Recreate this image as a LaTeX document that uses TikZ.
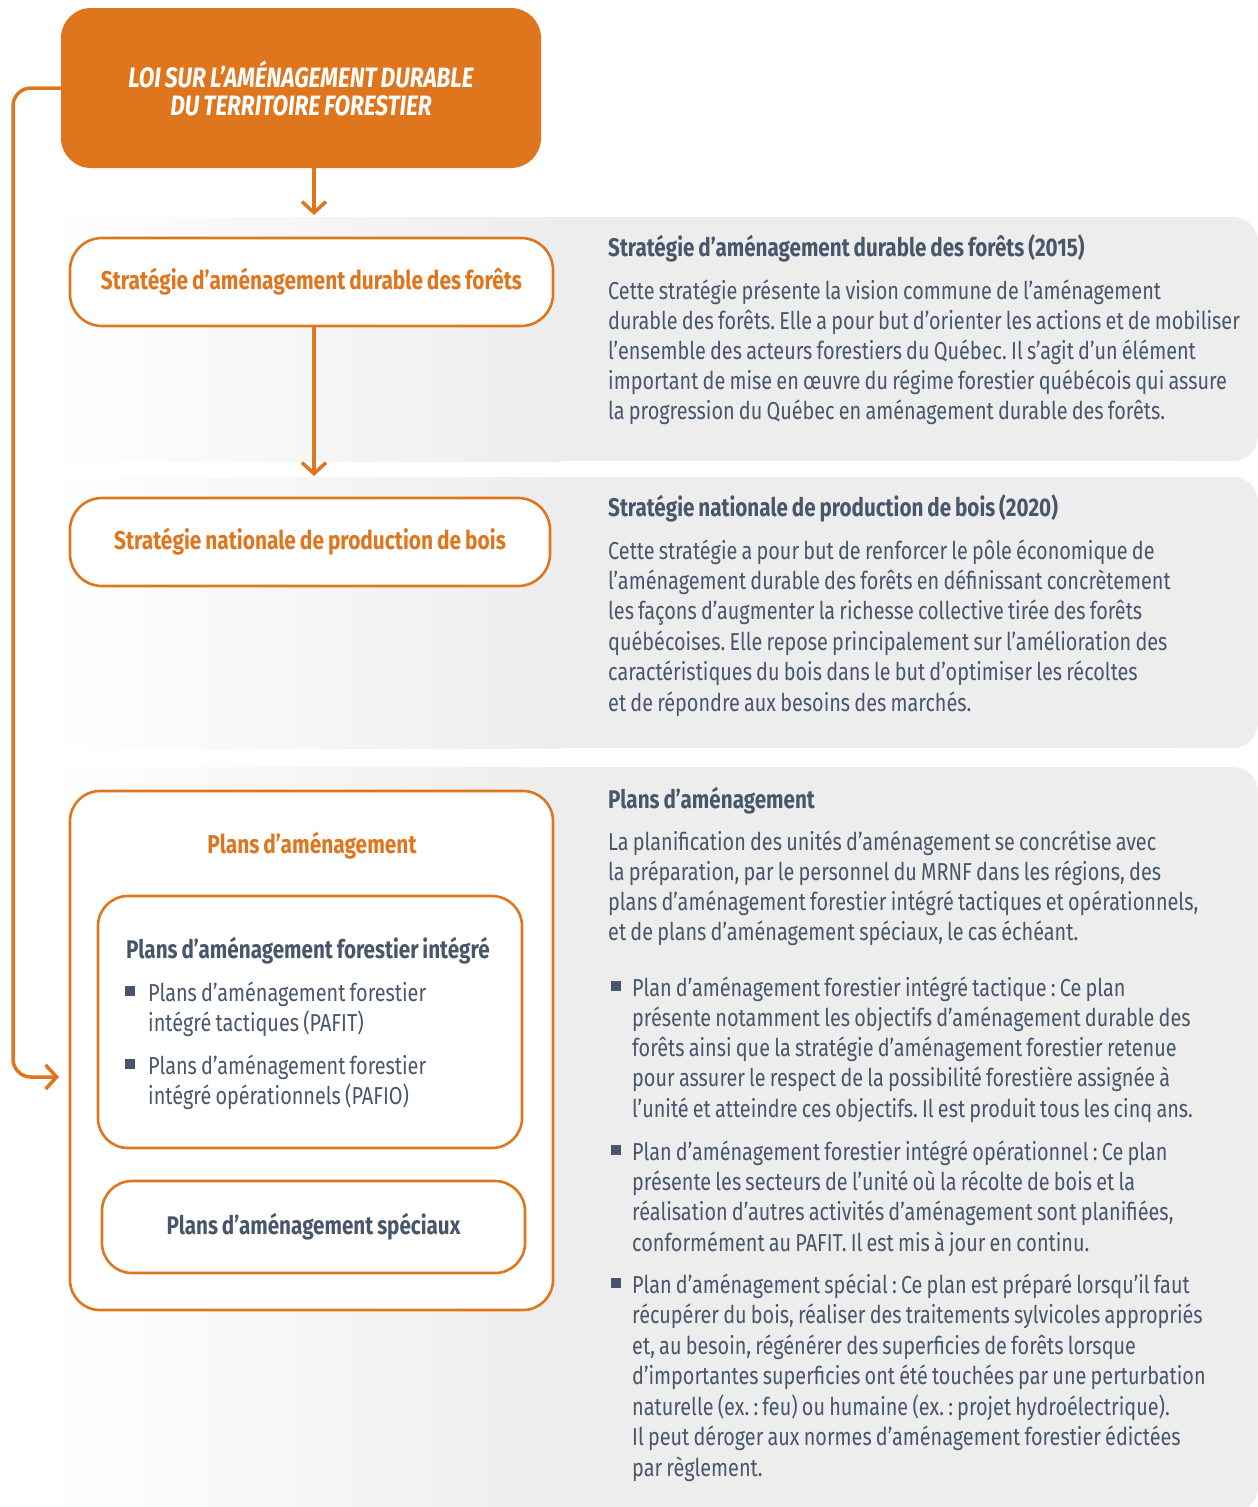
\documentclass[tikz,border=0pt]{standalone}
\usepackage{fontspec}
\setmainfont{Fira Sans}[FakeStretch=0.81, WordSpace=0.8]
\usetikzlibrary{arrows.meta}
\definecolor{orng}{RGB}{223,118,30}
\definecolor{slate}{RGB}{72,86,108}
\definecolor{panel}{RGB}{237,237,237}
\frenchspacing
\newcommand\textlines[5]{% x, y0, pitch, name, list
  \foreach \myline [count=\i] in {#5} {
    \node[body, anchor=base west] (#4-\i) at (#1, {#2+#3*(\i-1)}) {\myline};
  }}
\begin{document}
\begin{tikzpicture}[x=1pt, y=-1pt,
  conn/.style={draw=orng, line width=3.5pt, -{Straight Barb[length=11pt,width=24pt]}},
  obox/.style={draw=orng, line width=2.6pt, fill=white, rounded corners=30pt, inner sep=0pt},
  body/.style={text=slate, font=\fontsize{24.5}{30}\selectfont\frenchspacing, inner sep=0pt},
  head/.style={text=slate, font=\fontsize{25.5}{30}\selectfont\bfseries, inner sep=0pt},
  ohead/.style={text=orng, font=\fontsize{25.8}{30}\selectfont\bfseries, inner sep=0pt},
  bsq/.style={fill=slate, minimum size=9.5pt, inner sep=0pt, draw=none},
]
\useasboundingbox (0,0) rectangle (1258,1507);
\clip (0,0) rectangle (1258,1507);

% grey panels
\foreach \ya/\yb in {217/461, 477/748, 767/1512} {
  \shade[left color=white, right color=panel] (45,\ya) rectangle (561,\yb);
  \fill[panel] (560,\ya) rectangle (1200,\yb);
  \fill[panel, rounded corners=25pt] (1150,\ya) rectangle (1258,\yb);
}

% law box
\node[fill=orng, rounded corners=30pt, minimum width=480pt, minimum height=160pt,
      align=center, text=white, font=\fontsize{28}{28}\selectfont\bfseries\itshape]
  (law) at (301,88) {LOI SUR L’AMÉNAGEMENT DURABLE\\DU TERRITOIRE FORESTIER};

% left boxes
\node[obox, minimum width=483pt, minimum height=88pt, rounded corners=32pt, ohead]
  (s1) at (311.5,282) {Stratégie d’aménagement durable des forêts};
\node[obox, minimum width=480pt, minimum height=88pt, rounded corners=32pt, ohead]
  (s2) at (310,542) {Stratégie nationale de production de bois};
\node[obox, minimum width=483pt, minimum height=519pt] (plans) at (311.5,1050.5) {};
\node[ohead] (plansT) at (312,846) {Plans d’aménagement};
\node[obox, minimum width=424pt, minimum height=252pt] (pafi) at (310,1022) {};
\node[head, anchor=base west] (pafiT) at (126,958) {Plans d’aménagement forestier intégré};
\node[bsq] (pb1) at (130,991) {};
\node[body, anchor=base west] (pb1a) at (148,1001) {Plans d’aménagement forestier};
\node[body, anchor=base west] (pb1b) at (148,1031) {intégré tactiques (PAFIT)};
\node[bsq] (pb2) at (130,1064) {};
\node[body, anchor=base west] (pb2a) at (148,1074) {Plans d’aménagement forestier};
\node[body, anchor=base west] (pb2b) at (148,1104) {intégré opérationnels (PAFIO)};
\node[obox, minimum width=423pt, minimum height=92pt, head] (pas) at (313.5,1227) {Plans d’aménagement spéciaux};

% connectors
\coordinate (top1) at (314,215);
\coordinate (top2) at (314,476);
\coordinate (c1) at (13,88);
\coordinate (c2) at (13,1077);
\coordinate (c3) at (59,1077);
\draw[conn] (law.south -| top1) -- (top1);
\draw[conn] (s1.south -| top2) -- (top2);
\draw[conn, rounded corners=18pt] (law.west) -- (c1) -- (c2) -- (c3);

% right texts
\node[head, anchor=base west] (h1) at (608,256) {Stratégie d’aménagement durable des forêts (2015)};
\textlines{608}{299}{30}{p1}{{Cette stratégie présente la vision commune de l’aménagement},
{durable des forêts. Elle a pour but d’orienter les actions et de mobiliser},
{l’ensemble des acteurs forestiers du Québec. Il s’agit d’un élément},
{important de mise en œuvre du régime forestier québécois qui assure},
{la progression du Québec en aménagement durable des forêts.}}

\node[head, anchor=base west] (h2) at (608,516) {Stratégie nationale de production de bois (2020)};
\textlines{608}{559}{30.4}{p2}{{Cette stratégie a pour but de renforcer le pôle économique de},
{l’aménagement durable des forêts en définissant concrètement},
{les façons d’augmenter la richesse collective tirée des forêts},
{québécoises. Elle repose principalement sur l’amélioration des},
{caractéristiques du bois dans le but d’optimiser les récoltes},
{et de répondre aux besoins des marchés.}}

\node[head, anchor=base west] (h3) at (608,808) {Plans d’aménagement};
\textlines{608}{850}{30.3}{p3}{{La planification des unités d’aménagement se concrétise avec},
{la préparation, par le personnel du MRNF dans les régions, des},
{plans d’aménagement forestier intégré tactiques et opérationnels,},
{et de plans d’aménagement spéciaux, le cas échéant.}}

\node[bsq] (b1) at (616,986) {};
\textlines{632}{996}{30.3}{q1}{{Plan d’aménagement forestier intégré tactique : Ce plan},
{présente notamment les objectifs d’aménagement durable des},
{forêts ainsi que la stratégie d’aménagement forestier retenue},
{pour assurer le respect de la possibilité forestière assignée à},
{l’unité et atteindre ces objectifs. Il est produit tous les cinq ans.}}

\node[bsq] (b2) at (616,1150) {};
\textlines{632}{1160}{30.4}{q2}{{Plan d’aménagement forestier intégré opérationnel : Ce plan},
{présente les secteurs de l’unité où la récolte de bois et la},
{réalisation d’autres activités d’aménagement sont planifiées,},
{conformément au PAFIT. Il est mis à jour en continu.}}

\node[bsq] (b3) at (616,1283) {};
\textlines{632}{1293}{30.5}{q3}{{Plan d’aménagement spécial : Ce plan est préparé lorsqu’il faut},
{récupérer du bois, réaliser des traitements sylvicoles appropriés},
{et, au besoin, régénérer des superficies de forêts lorsque},
{d’importantes superficies ont été touchées par une perturbation},
{naturelle (ex. : feu) ou humaine (ex. : projet hydroélectrique).},
{Il peut déroger aux normes d’aménagement forestier édictées},
{par règlement.}}
\end{tikzpicture}
\end{document}
